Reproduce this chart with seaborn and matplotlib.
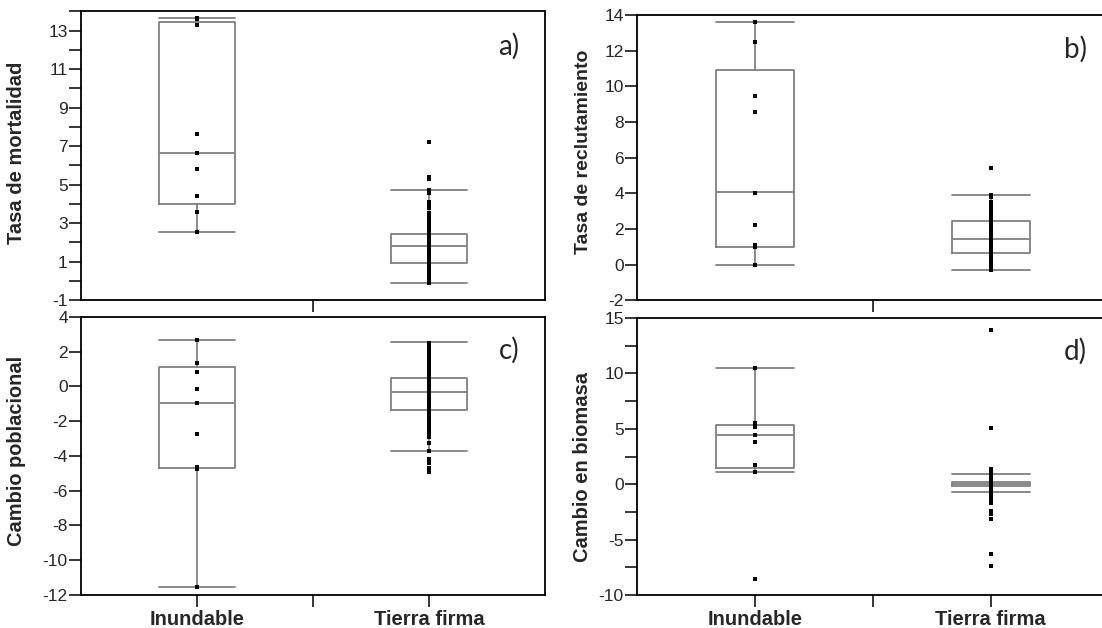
import matplotlib
matplotlib.use("Agg")
import matplotlib.pyplot as plt
import seaborn as sns
import pandas as pd

grupos = ["Inundable", "Tierra firma"]

# a) tasa de mortalidad
mort_inundable = [13.65, 13.62, 13.28, 7.62, 6.64, 5.8, 4.4, 3.57, 2.56]
mort_tierra = [-0.1, 0.1, 0.15, 0.25, 0.3, 0.4, 0.5, 0.55, 0.6, 0.7, 0.75, 0.8,
               0.9, 0.95, 1.0, 1.1, 1.15, 1.2, 1.3, 1.35, 1.4, 1.5, 1.55, 1.6,
               1.7, 1.75, 1.8, 1.85, 1.9, 2.0, 2.05, 2.1, 2.2, 2.25, 2.3, 2.4,
               2.5, 2.6, 2.7, 2.8, 2.9, 3.0, 3.1, 3.2, 3.3, 3.45, 3.55, 3.8,
               3.9, 4.0, 4.1, 4.55, 4.65, 4.72, 5.3, 5.4, 7.2]
# whislo, q1, mediana, q3, whishi
mort_cajas = [(2.56, 4.0, 6.64, 13.42, 13.65), (-0.1, 0.92, 1.83, 2.46, 4.72)]

# b) tasa de reclutamiento
recl_inundable = [13.63, 12.47, 9.44, 8.57, 4.03, 2.24, 1.07, 0.96, -0.04]
recl_tierra = [-0.33, -0.2, -0.1, 0.0, 0.1, 0.2, 0.3, 0.4, 0.5, 0.6, 0.7, 0.8,
               0.9, 1.0, 1.1, 1.2, 1.3, 1.4, 1.5, 1.6, 1.7, 1.8, 1.9, 2.0,
               2.1, 2.2, 2.3, 2.4, 2.5, 2.6, 2.7, 2.8, 2.9, 3.0, 3.1, 3.2,
               3.3, 3.4, 3.5, 3.8, 3.9, 5.44]
recl_cajas = [(-0.04, 1.01, 4.05, 10.93, 13.63), (-0.33, 0.66, 1.46, 2.43, 3.93)]

# c) cambio poblacional
pob_inundable = [2.69, 1.35, 0.83, -0.15, -0.96, -2.73, -4.65, -4.77, -11.52]
pob_tierra = [-4.94, -4.7, -4.4, -4.2, -3.7, -3.25, -2.9, -2.8, -2.7, -2.6,
              -2.5, -2.4, -2.3, -2.2, -2.1, -2.0, -1.9, -1.8, -1.7, -1.6,
              -1.5, -1.4, -1.3, -1.2, -1.1, -1.0, -0.9, -0.8, -0.7, -0.6,
              -0.5, -0.4, -0.3, -0.2, -0.1, 0.0, 0.1, 0.2, 0.3, 0.4, 0.5,
              0.6, 0.7, 0.8, 0.9, 1.0, 1.1, 1.2, 1.3, 1.4, 1.5, 1.6, 1.8,
              2.0, 2.1, 2.2, 2.3, 2.5]
pob_cajas = [(-11.52, -4.67, -0.94, 1.12, 2.69), (-3.69, -1.38, -0.31, 0.5, 2.54)]

# d) cambio en biomasa
bio_inundable = [10.53, 5.5, 5.35, 5.15, 4.42, 3.84, 1.75, 1.08, -8.55]
bio_tierra = [-7.4, -6.3, -3.1, -2.7, -2.55, -2.4, -1.7, -1.6, -1.5, -1.4,
              -1.3, -1.2, -1.1, -1.0, -0.9, -0.8, -0.7, -0.6, -0.5, -0.4,
              -0.3, -0.2, -0.1, 0.0, 0.1, 0.2, 0.3, 0.4, 0.5, 0.6, 0.7,
              0.8, 0.9, 1.0, 1.1, 1.2, 1.3, 1.4, 5.1, 13.88]
bio_cajas = [(1.08, 1.5, 4.42, 5.36, 10.53), (-0.74, -0.2, 0.05, 0.18, 0.94)]

gris = "#808080"

sns.set_style("ticks")
plt.rcParams["font.family"] = ["Liberation Sans", "DejaVu Sans"]


def panel(ax, inund, tierra, cajas, ylabel, ylim, mayores, menores, letra,
          etiquetas, xlab, ylab, tam, xlet):
    stats = []
    for c in cajas:
        stats.append(dict(whislo=c[0], q1=c[1], med=c[2], q3=c[3],
                          whishi=c[4], fliers=[]))
    ax.bxp(stats, positions=[0, 1], widths=0.33, capwidths=0.33,
           showfliers=False, manage_ticks=False,
           boxprops=dict(color=gris, lw=1.3),
           whiskerprops=dict(color=gris, lw=1.3),
           capprops=dict(color=gris, lw=1.3),
           medianprops=dict(color=gris, lw=1.3))
    df = pd.DataFrame({"grupo": [grupos[0]] * len(inund) + [grupos[1]] * len(tierra),
                       "valor": inund + tierra})
    sns.stripplot(data=df, x="grupo", y="valor", order=grupos, jitter=False,
                  marker="s", size=2.3, color="black", linewidth=0, ax=ax,
                  zorder=3)
    ax.set_xlim(-0.5, 1.5)
    ax.set_ylim(*ylim)
    ax.set_xticks([0.5])
    ax.set_xticklabels([""])
    if etiquetas:
        ax.set_xticks([0, 1], minor=True)
        ax.set_xticklabels(grupos, minor=True, fontsize=14.5, fontweight="bold")
        ax.tick_params(axis="x", which="minor", length=0, pad=2)
    ax.set_xlabel("")
    ax.set_yticks(mayores)
    ax.set_yticklabels([("%g" % v) for v in mayores], fontsize=12.5)
    if menores:
        ax.set_yticks(menores, minor=True)
    ax.tick_params(axis="both", which="both", direction="out", length=8.5,
                   width=1.1, color="black")
    ax.tick_params(axis="y", pad=1)
    ax.set_ylabel(ylabel, fontsize=tam, fontweight="bold")
    ax.yaxis.set_label_coords(xlab, ylab)
    for s in ax.spines.values():
        s.set_visible(True)
        s.set_linewidth(1.3)
        s.set_color("black")
    ax.text(xlet, 0.88, letra, transform=ax.transAxes, fontsize=20,
            family="Lato", ha="left", va="center")


fig = plt.figure(figsize=(11.02, 6.28), dpi=100)
ax_a = fig.add_axes([0.0735, 0.522, 0.421, 0.460])
ax_b = fig.add_axes([0.578, 0.522, 0.428, 0.454])
ax_c = fig.add_axes([0.0735, 0.0525, 0.421, 0.443])
ax_d = fig.add_axes([0.578, 0.0525, 0.428, 0.441])

panel(ax_a, mort_inundable, mort_tierra, mort_cajas, "Tasa de mortalidad",
      (-1, 14), list(range(-1, 14, 2)), list(range(0, 15, 2)), "a)", False,
      -0.118, 0.51, 14.5, 0.9)
panel(ax_b, recl_inundable, recl_tierra, recl_cajas, "Tasa de reclutamiento",
      (-2, 14), list(range(-2, 15, 2)), None, "b)", False,
      -0.095, 0.52, 14, 0.905)
panel(ax_c, pob_inundable, pob_tierra, pob_cajas, "Cambio poblacional",
      (-12, 4), list(range(-12, 5, 2)), None, "c)", True,
      -0.118, 0.518, 14.4, 0.9)
panel(ax_d, bio_inundable, bio_tierra, bio_cajas, "Cambio en biomasa",
      (-10, 15), [-10, -5, 0, 5, 10, 15], [-7.5, -2.5, 2.5, 7.5, 12.5], "d)",
      True, -0.095, 0.462, 14.5, 0.905)

fig.savefig("out.png", dpi=100)
